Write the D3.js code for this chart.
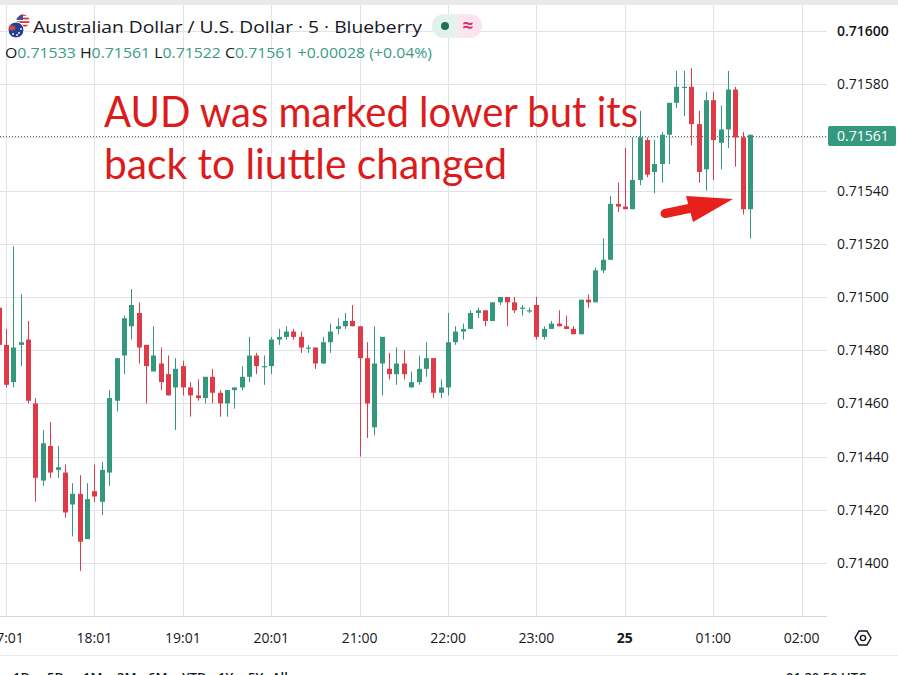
<!DOCTYPE html>
<html>
<head>
<meta charset="utf-8">
<script src="https://cdn.jsdelivr.net/npm/d3@7"></script>
<style>
html, body { margin: 0; padding: 0; background: #fff; overflow: hidden; }
svg { display: block; }
</style>
</head>
<body>
<div id="chart"></div>
<script>
'use strict';

// 5 minute AUD/USD candles, 16:55 -> 01:25 (UTC)
var opens = [
    0.71496, 0.71482, 0.71468, 0.71482, 0.71484, 0.71460, 0.71431, 0.71444, 0.71435, 0.71434,
    0.71422, 0.71426, 0.71409, 0.71427, 0.71423, 0.71434, 0.71461, 0.71478, 0.71489, 0.71494,
    0.71482, 0.71472, 0.71475, 0.71471, 0.71466, 0.71474, 0.71466, 0.71463, 0.71462, 0.71470,
    0.71464, 0.71460, 0.71465, 0.71466, 0.71470, 0.71478, 0.71474, 0.71474, 0.71484, 0.71485,
    0.71487, 0.71485, 0.71481, 0.71481, 0.71475, 0.71483, 0.71488, 0.71489, 0.71491, 0.71489,
    0.71477, 0.71451, 0.71475, 0.71473, 0.71471, 0.71475, 0.71466, 0.71468, 0.71473, 0.71477,
    0.71464, 0.71466, 0.71483, 0.71487, 0.71488, 0.71494, 0.71495, 0.71491, 0.71498, 0.71500,
    0.71498, 0.71496, 0.71495, 0.71497, 0.71485, 0.71488, 0.71490, 0.71489, 0.71488, 0.71486,
    0.71499, 0.71498, 0.71510, 0.71514, 0.71535, 0.71534, 0.71533, 0.71544, 0.71559, 0.71547,
    0.71550, 0.71561, 0.71573, 0.71579, 0.71579, 0.71565, 0.71548, 0.71574, 0.71558, 0.71563,
    0.71578, 0.71560, 0.71533
];
var highs = [
    0.71499, 0.71488, 0.71519, 0.71501, 0.71491, 0.71462, 0.71450, 0.71453, 0.71444, 0.71437,
    0.71430, 0.71433, 0.71430, 0.71437, 0.71438, 0.71465, 0.71477, 0.71493, 0.71503, 0.71498,
    0.71482, 0.71489, 0.71481, 0.71478, 0.71477, 0.71476, 0.71468, 0.71469, 0.71470, 0.71473,
    0.71465, 0.71465, 0.71466, 0.71474, 0.71485, 0.71479, 0.71478, 0.71485, 0.71488, 0.71489,
    0.71488, 0.71487, 0.71482, 0.71481, 0.71485, 0.71490, 0.71492, 0.71494, 0.71497, 0.71489,
    0.71483, 0.71489, 0.71485, 0.71479, 0.71481, 0.71480, 0.71472, 0.71478, 0.71483, 0.71477,
    0.71469, 0.71494, 0.71489, 0.71490, 0.71495, 0.71496, 0.71495, 0.71498, 0.71500, 0.71500,
    0.71500, 0.71497, 0.71496, 0.71500, 0.71489, 0.71491, 0.71495, 0.71493, 0.71489, 0.71499,
    0.71501, 0.71511, 0.71522, 0.71538, 0.71543, 0.71556, 0.71560, 0.71570, 0.71560, 0.71559,
    0.71562, 0.71573, 0.71585, 0.71585, 0.71586, 0.71570, 0.71577, 0.71577, 0.71572, 0.71585,
    0.71579, 0.71562, 0.71561
];
var lows = [
    0.71481, 0.71466, 0.71466, 0.71474, 0.71460, 0.71423, 0.71429, 0.71432, 0.71432, 0.71417,
    0.71410, 0.71397, 0.71409, 0.71423, 0.71418, 0.71429, 0.71457, 0.71471, 0.71484, 0.71475,
    0.71460, 0.71472, 0.71465, 0.71463, 0.71450, 0.71463, 0.71455, 0.71461, 0.71460, 0.71460,
    0.71455, 0.71455, 0.71458, 0.71465, 0.71468, 0.71471, 0.71467, 0.71471, 0.71482, 0.71484,
    0.71484, 0.71479, 0.71479, 0.71473, 0.71475, 0.71479, 0.71486, 0.71488, 0.71489, 0.71440,
    0.71447, 0.71448, 0.71463, 0.71469, 0.71467, 0.71469, 0.71466, 0.71467, 0.71470, 0.71462,
    0.71462, 0.71463, 0.71482, 0.71484, 0.71488, 0.71492, 0.71489, 0.71491, 0.71497, 0.71489,
    0.71494, 0.71493, 0.71494, 0.71484, 0.71484, 0.71488, 0.71489, 0.71488, 0.71486, 0.71486,
    0.71496, 0.71498, 0.71509, 0.71514, 0.71532, 0.71533, 0.71533, 0.71542, 0.71545, 0.71539,
    0.71543, 0.71550, 0.71571, 0.71568, 0.71557, 0.71543, 0.71540, 0.71544, 0.71548, 0.71556,
    0.71549, 0.71531, 0.71522
];
var closes = [
    0.71482, 0.71467, 0.71481, 0.71483, 0.71461, 0.71432, 0.71445, 0.71434, 0.71436, 0.71419,
    0.71426, 0.71408, 0.71424, 0.71425, 0.71435, 0.71462, 0.71477, 0.71492, 0.71497, 0.71481,
    0.71474, 0.71478, 0.71468, 0.71463, 0.71473, 0.71466, 0.71463, 0.71462, 0.71470, 0.71464,
    0.71460, 0.71465, 0.71466, 0.71470, 0.71478, 0.71474, 0.71474, 0.71484, 0.71485, 0.71487,
    0.71485, 0.71481, 0.71481, 0.71475, 0.71483, 0.71487, 0.71489, 0.71491, 0.71489, 0.71477,
    0.71460, 0.71475, 0.71485, 0.71471, 0.71475, 0.71471, 0.71468, 0.71473, 0.71477, 0.71464,
    0.71466, 0.71483, 0.71487, 0.71488, 0.71494, 0.71495, 0.71491, 0.71498, 0.71500, 0.71498,
    0.71495, 0.71496, 0.71495, 0.71485, 0.71488, 0.71490, 0.71489, 0.71488, 0.71486, 0.71499,
    0.71498, 0.71510, 0.71514, 0.71535, 0.71534, 0.71533, 0.71544, 0.71560, 0.71546, 0.71550,
    0.71561, 0.71573, 0.71579, 0.71579, 0.71565, 0.71547, 0.71574, 0.71559, 0.71563, 0.71578,
    0.71560, 0.71533, 0.71561
];

// time axis: candle index of each label and its text
var timeTickIndex = [1, 13, 25, 37, 49, 61, 73, 85, 97, 109];
var timeTickLabels = ['17:01', '18:01', '19:01', '20:01', '21:00', '22:00', '23:00', '25', '01:00', '02:00'];

// price axis
var priceTicks = [0.71400, 0.71420, 0.71440, 0.71460, 0.71480, 0.71500, 0.71520, 0.71540, 0.71560, 0.71580, 0.71600];
var lastPrice = 0.71561;

// legend texts
var title = 'Australian Dollar / U.S. Dollar \u00b7 5 \u00b7 Blueberry';
var ohlcNames = ['O', 'H', 'L', 'C'];
var ohlcValues = ['0.71533', '0.71561', '0.71522', '0.71561'];
var changeText = '+0.00028 (+0.04%)';
var noteLines = ['AUD was marked lower but its', 'back to liuttle changed'];
var rangeButtons = ['1D', '5D', '1M', '3M', '6M', 'YTD', '1Y', '5Y', 'All'];
var clockText = '01:30:50 UTC';

//configuration variables
var config = {};
config.width       = 898;
config.height      = 675;
config.plotRight   = 827;
config.plotTop     = 5;
config.plotBottom  = 616;
config.bodyWidth   = 5;
config.upColor     = '#34987c';
config.downColor   = '#df3a47';
config.gridColor   = '#e2e3e7';
config.textColor   = '#131722';
config.uiFont      = '"Open Sans", "Noto Sans", sans-serif';

var svg = d3.select('#chart')
    .append('svg')
    .attr('width', config.width)
    .attr('height', config.height)
    ;

var x = d3.scaleLinear().domain([1, 109]).range([6, 801.7]);
var y = d3.scaleLinear().domain([0.714, 0.716]).range([563, 31]);

var candles = d3.range(opens.length).map(function(i){
    return {i: i, o: opens[i], h: highs[i], l: lows[i], c: closes[i]};
});

//top strip
svg.append('rect')
    .attr('width', config.width)
    .attr('height', config.plotTop)
    .attr('fill', '#e9e9eb')
    ;

//clip for the plot
svg.append('defs').append('clipPath')
    .attr('id', 'plotClip')
    .append('rect')
    .attr('x', 0)
    .attr('y', config.plotTop)
    .attr('width', config.plotRight)
    .attr('height', config.plotBottom - config.plotTop)
    ;

//grid
var grid = svg.append('g').attr('class', 'grid').attr('clip-path', 'url(#plotClip)');

grid.selectAll('line.h')
    .data(priceTicks)
    .enter()
        .append('line')
        .attr('x1', 0)
        .attr('x2', config.plotRight)
        .attr('y1', function(d){ return Math.round(y(d)) + 0.5; })
        .attr('y2', function(d){ return Math.round(y(d)) + 0.5; })
        .attr('stroke', config.gridColor)
        ;

grid.selectAll('line.v')
    .data(timeTickIndex)
    .enter()
        .append('line')
        .attr('x1', function(d){ return Math.round(x(d)) + 0.5; })
        .attr('x2', function(d){ return Math.round(x(d)) + 0.5; })
        .attr('y1', config.plotTop)
        .attr('y2', config.plotBottom)
        .attr('stroke', config.gridColor)
        ;

//axis borders
svg.append('line')
    .attr('x1', 0).attr('x2', config.plotRight)
    .attr('y1', config.plotBottom + 0.5).attr('y2', config.plotBottom + 0.5)
    .attr('stroke', '#d6d8de')
    ;
svg.append('line')
    .attr('x1', 0).attr('x2', config.width)
    .attr('y1', 655.5).attr('y2', 655.5)
    .attr('stroke', '#e8e9ec')
    ;

//last price dotted line
svg.append('line')
    .attr('x1', 0).attr('x2', config.plotRight)
    .attr('y1', Math.round(y(lastPrice)) + 1.5)
    .attr('y2', Math.round(y(lastPrice)) + 1.5)
    .attr('stroke', '#5b6b66')
    .attr('stroke-dasharray', '1,2')
    ;

//candles
var plot = svg.append('g').attr('class', 'candles').attr('clip-path', 'url(#plotClip)');

var candle = plot.selectAll('g.candle')
    .data(candles)
    .enter()
        .append('g')
        .attr('fill', function(d){ return d.c >= d.o ? config.upColor : config.downColor; })
        .attr('stroke', function(d){ return d.c >= d.o ? config.upColor : config.downColor; })
        ;

candle.append('line')
    .attr('x1', function(d){ return Math.round(x(d.i)) + 0.5; })
    .attr('x2', function(d){ return Math.round(x(d.i)) + 0.5; })
    .attr('y1', function(d){ return y(d.h); })
    .attr('y2', function(d){ return y(d.l); })
    .attr('stroke-width', 1)
    ;

candle.append('rect')
    .attr('x', function(d){ return Math.round(x(d.i)) - 2; })
    .attr('width', config.bodyWidth)
    .attr('y', function(d){ return y(Math.max(d.o, d.c)); })
    .attr('height', function(d){ return Math.max(1.2, Math.abs(y(d.o) - y(d.c))); })
    .attr('stroke', 'none')
    ;

//price axis labels
svg.selectAll('text.price')
    .data(priceTicks)
    .enter()
        .append('text')
        .attr('x', 837)
        .attr('y', function(d){ return y(d) + 5; })
        .attr('fill', config.textColor)
        .style('font-family', config.uiFont)
        .style('font-size', '14px')
        .style('font-weight', function(d){ return d === 0.716 ? 600 : 400; })
        .text(function(d){ return d3.format('.5f')(d); })
        ;

//last price label
var lastY = Math.round(y(lastPrice)) + 1;
svg.append('rect')
    .attr('x', 828)
    .attr('y', lastY - 10)
    .attr('width', 68)
    .attr('height', 20)
    .attr('rx', 2)
    .attr('fill', '#35997d')
    ;
svg.append('text')
    .attr('x', 837)
    .attr('y', lastY + 5)
    .attr('fill', '#fff')
    .style('font-family', config.uiFont)
    .style('font-size', '14px')
    .text(d3.format('.5f')(lastPrice))
    ;

//time axis labels
svg.selectAll('text.time')
    .data(timeTickIndex)
    .enter()
        .append('text')
        .attr('x', function(d){ return x(d); })
        .attr('y', 643)
        .attr('text-anchor', 'middle')
        .attr('fill', config.textColor)
        .style('font-family', config.uiFont)
        .style('font-size', '14px')
        .style('font-weight', function(d, i){ return timeTickLabels[i] === '25' ? 700 : 400; })
        .text(function(d, i){ return timeTickLabels[i]; })
        ;

//settings icon
var gear = svg.append('g').attr('transform', 'translate(863,638)');
gear.append('path')
    .attr('d', d3.range(6).map(function(k){
        var a = k * Math.PI / 3;
        return (k ? 'L' : 'M') + (8 * Math.cos(a)).toFixed(2) + ',' + (8 * Math.sin(a)).toFixed(2);
    }).join('') + 'Z')
    .attr('fill', 'none')
    .attr('stroke', config.textColor)
    .attr('stroke-width', 1.4)
    ;
gear.append('circle').attr('r', 2.6).attr('fill', 'none').attr('stroke', config.textColor).attr('stroke-width', 1.4);

//bottom toolbar (cut off by the window)
svg.selectAll('text.range')
    .data(rangeButtons)
    .enter()
        .append('text')
        .attr('x', function(d, i){ return [13, 47, 83, 117, 148, 182, 218, 248, 272][i]; })
        .attr('y', 682)
        .attr('fill', config.textColor)
        .style('font-family', config.uiFont)
        .style('font-size', '13px')
        .style('font-weight', 600)
        .text(function(d){ return d; })
        ;
svg.append('text')
    .attr('x', 786)
    .attr('y', 682)
    .attr('fill', config.textColor)
    .style('font-family', config.uiFont)
    .style('font-size', '13px')
    .style('font-weight', 600)
    .text(clockText)
    ;

//legend: flags
var flags = svg.append('g');
var usClip = svg.select('defs').append('clipPath').attr('id', 'usClip');
usClip.append('circle').attr('cx', 23).attr('cy', 21).attr('r', 6.5);
var us = flags.append('g').attr('clip-path', 'url(#usClip)');
us.append('rect').attr('x', 16).attr('y', 14).attr('width', 14).attr('height', 14).attr('fill', '#fff');
d3.range(4).forEach(function(k){
    us.append('rect').attr('x', 16).attr('y', 14 + k * 3.6).attr('width', 14).attr('height', 1.8).attr('fill', '#d8323c');
});
us.append('rect').attr('x', 16).attr('y', 14).attr('width', 7).attr('height', 6).attr('fill', '#3c4f9a');
flags.append('circle').attr('cx', 16).attr('cy', 30).attr('r', 8).attr('fill', '#22408f').attr('stroke', '#fff').attr('stroke-width', 1);
flags.append('path').attr('d', 'M9,26 L15,30 M15,26 L9,30 M12,25 L12,31 M8.5,28 L15.5,28').attr('stroke', '#e34a4a').attr('stroke-width', 1.2);
[[19, 33], [21, 29], [17, 35], [13, 34]].forEach(function(p){
    flags.append('circle').attr('cx', p[0]).attr('cy', p[1]).attr('r', 0.9).attr('fill', '#fff');
});

//legend: title
svg.append('text')
    .attr('x', 33)
    .attr('y', 33)
    .attr('fill', config.textColor)
    .attr('textLength', 389)
    .attr('lengthAdjust', 'spacingAndGlyphs')
    .style('font-family', config.uiFont)
    .style('font-size', '17px')
    .text(title)
    ;

//legend: status pill
var grad = svg.select('defs').append('linearGradient').attr('id', 'pillGrad');
grad.append('stop').attr('offset', '0%').attr('stop-color', '#ddf1ea');
grad.append('stop').attr('offset', '50%').attr('stop-color', '#e6f2ee');
grad.append('stop').attr('offset', '55%').attr('stop-color', '#fbe6ee');
grad.append('stop').attr('offset', '100%').attr('stop-color', '#fbe3ec');
svg.append('rect')
    .attr('x', 432).attr('y', 14).attr('width', 50).attr('height', 24).attr('rx', 12)
    .attr('fill', 'url(#pillGrad)')
    ;
svg.append('circle').attr('cx', 445).attr('cy', 26).attr('r', 4).attr('fill', '#1f6f58');
svg.append('text')
    .attr('x', 468).attr('y', 32)
    .attr('text-anchor', 'middle')
    .attr('fill', '#d3346e')
    .style('font-family', config.uiFont)
    .style('font-size', '19px')
    .style('font-weight', 700)
    .text('\u2248')
    ;

//legend: OHLC values
var ohlc = svg.append('text')
    .attr('x', 5)
    .attr('y', 58)
    .attr('textLength', 427)
    .attr('lengthAdjust', 'spacingAndGlyphs')
    .style('font-family', config.uiFont)
    .style('font-size', '14px')
    ;
ohlcNames.forEach(function(n, i){
    ohlc.append('tspan').attr('fill', config.textColor).text((i ? '\u00a0' : '') + n);
    ohlc.append('tspan').attr('fill', '#3a9c83').text(ohlcValues[i]);
});
ohlc.append('tspan').attr('fill', '#3a9c83').text('\u00a0' + changeText);

//annotation
svg.selectAll('text.note')
    .data(noteLines)
    .enter()
        .append('text')
        .attr('x', 104)
        .attr('y', function(d, i){ return 127 + i * 52; })
        .attr('textLength', function(d, i){ return [534, 403][i]; })
        .attr('lengthAdjust', 'spacingAndGlyphs')
        .attr('fill', '#dc1c1c')
        .style('font-family', 'Lato, "Open Sans", sans-serif')
        .style('font-size', '42px')
        .text(function(d){ return d; })
        ;

//arrow pointing at the dip
svg.append('line')
    .attr('x1', 665).attr('y1', 213.5)
    .attr('x2', 694).attr('y2', 207.5)
    .attr('stroke', '#e8201c')
    .attr('stroke-width', 9)
    .attr('stroke-linecap', 'round')
    ;
svg.append('path')
    .attr('d', 'M686,196 L693,222 L733,199 Z')
    .attr('fill', '#e8201c')
    ;
</script>
</body>
</html>
